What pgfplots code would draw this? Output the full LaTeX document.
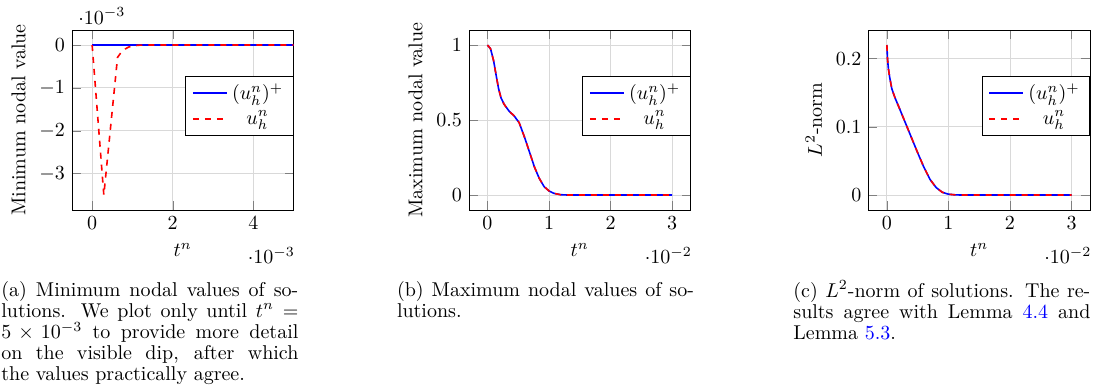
\documentclass[border=0pt]{standalone}
\usepackage{pgfplots}
\pgfplotsset{compat=1.18}
\pgfplotsset{myax/.style={
  scale only axis, width=110.8pt, height=90pt, anchor=south west,
  grid=major, grid style={black!15},
  legend cell align=center,
  legend style={at={(1,0.58)}, anchor=east},
  xlabel={$t^n$},
}}
\begin{document}
\begin{tikzpicture}
% (a)
\begin{axis}[myax, at={(36pt,-105pt)},
  xmin=-0.0005, xmax=0.005, ymin=-0.00385, ymax=0.00035,
  xtick={0,0.002,0.004}, ytick={-0.003,-0.002,-0.001,0},
  scaled x ticks=base 10:3, scaled y ticks=base 10:3,
  ylabel={Minimum nodal value}]
\addlegendimage{color=blue, line width=1pt}
\addlegendentry{$(u_h^n)^+$}
\addlegendimage{color=red, line width=0.8pt, dashed}
\addlegendentry{$u_h^n$}
\addplot[color=blue, line width=0.8pt, forget plot] coordinates {(0,0) (0.005,0)};
\addplot[color=red, line width=0.8pt, dashed, forget plot] coordinates {
(0,0) (0.29e-3,-3.5e-3) (0.63e-3,-0.29e-3) (0.72e-3,-0.17e-3) (0.82e-3,-0.094e-3)
(0.90e-3,-0.05e-3) (0.99e-3,-0.024e-3) (1.15e-3,-0.005e-3) (1.3e-3,0) (5e-3,0)};
\end{axis}
% (b)
\begin{axis}[myax, at={(234.5pt,-105pt)},
  xmin=-0.003, xmax=0.033, ymin=-0.1, ymax=1.1,
  xtick={0,0.01,0.02,0.03}, ytick={0,0.5,1},
  scaled x ticks=base 10:2, scaled y ticks=false,
  ylabel={Maximum nodal value}]
\pgfplotstableread{
t v
0 1.0
0.0005 0.975
0.001 0.895
0.0014 0.80
0.0018 0.71
0.0022 0.648
0.0027 0.605
0.0035 0.56
0.00434 0.527
0.00515 0.482
0.00596 0.392
0.0068 0.29
0.0076 0.19
0.0084 0.112
0.0092 0.056
0.0100 0.027
0.0108 0.011
0.0119 0.002
0.013 0
0.03 0
}\tabB
\addlegendimage{color=blue, line width=1pt}
\addlegendentry{$(u_h^n)^+$}
\addlegendimage{color=red, line width=0.8pt, dashed}
\addlegendentry{$u_h^n$}
\addplot[color=blue, line width=0.8pt, forget plot] table[x=t,y=v] {\tabB};
\addplot[color=red, line width=0.8pt, dashed, forget plot] table[x=t,y=v] {\tabB};
\end{axis}
% (c)
\begin{axis}[myax, at={(434.2pt,-105pt)},
  xmin=-0.003, xmax=0.033, ymin=-0.022, ymax=0.242,
  xtick={0,0.01,0.02,0.03}, ytick={0,0.1,0.2},
  scaled x ticks=base 10:2, scaled y ticks=false,
  ylabel={$L^2$-norm}]
\pgfplotstableread{
t v
0 0.22
0.0001 0.20
0.00025 0.185
0.00045 0.173
0.0008 0.156
0.0013 0.143
0.002 0.128
0.003 0.106
0.004 0.084
0.005 0.062
0.006 0.041
0.007 0.023
0.008 0.011
0.009 0.004
0.010 0.0012
0.011 0.0003
0.012 0
0.03 0
}\tabC
\addlegendimage{color=blue, line width=1pt}
\addlegendentry{$(u_h^n)^+$}
\addlegendimage{color=red, line width=0.8pt, dashed}
\addlegendentry{$u_h^n$}
\addplot[color=blue, line width=0.8pt, forget plot] table[x=t,y=v] {\tabC};
\addplot[color=red, line width=0.8pt, dashed, forget plot] table[x=t,y=v] {\tabC};
\end{axis}
% captions
\begin{scope}[every node/.style={inner sep=0pt, anchor=base west, text width=148.5pt, align=justify, font=\fontsize{10}{10.6}\selectfont}]
\node at (0.5pt,-148pt) {(a) Minimum nodal values of so-\linebreak lutions. We plot only until $t^n =$\linebreak $5 \times 10^{-3}$ to provide more detail\linebreak on the visible dip, after which\linebreak the values practically agree.};
\node at (198.3pt,-148pt) {(b) Maximum nodal values of so-\linebreak lutions.};
\node at (396.5pt,-148.5pt) {(c) $L^2$-norm of solutions. The re-\linebreak sults agree with Lemma \textcolor{blue}{4.4} and\linebreak Lemma \textcolor{blue}{5.3}.};
\end{scope}
\pgfresetboundingbox
\path[use as bounding box] (0,0) rectangle (549pt,-194pt);
\end{tikzpicture}
\end{document}
